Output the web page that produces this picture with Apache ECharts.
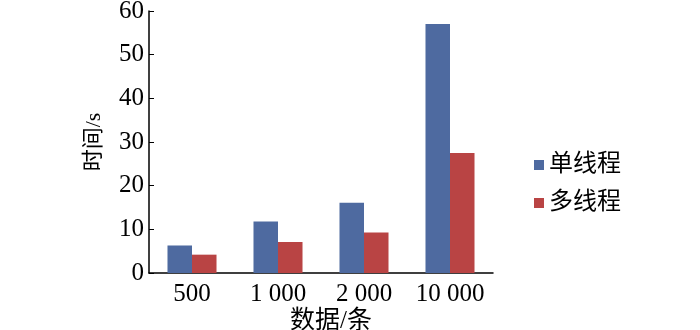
<!DOCTYPE html>
<html>
<head>
<meta charset="utf-8">
<script src="https://cdn.jsdelivr.net/npm/echarts@6/dist/echarts.min.js"></script>
<style>html,body{margin:0;padding:0;background:#fff}#c{width:700px;height:330px}</style>
</head>
<body>
<div id="c"></div>
<script>
const categories = ['500', '1 000', '2 000', '10 000'];
const singleThread = [6.3, 11.8, 16.1, 57.0];
const multiThread = [4.2, 7.1, 9.3, 27.5];
const seriesNames = ['单线程', '多线程'];
const yTicks = { min: 0, max: 60, interval: 10 };

const FONT = "'Liberation Serif', 'Noto Sans CJK SC', serif";
const chart = echarts.init(document.getElementById('c'), null, { renderer: 'canvas' });
chart.setOption({
  animation: false,
  backgroundColor: '#fff',
  grid: { left: 149, right: 207, top: 11, bottom: 57, containLabel: false, outerBoundsMode: 'none' },
  legend: {
    orient: 'vertical', left: 529, top: 148,
    icon: 'rect', itemWidth: 10, itemHeight: 10, itemGap: 14,
    textStyle: { fontFamily: FONT, fontSize: 24, color: '#000' },
    data: seriesNames
  },
  xAxis: {
    type: 'category', data: categories,
    name: '数据/条', nameLocation: 'middle', nameGap: 36, nameMoveOverlap: false,
    nameTextStyle: { fontFamily: FONT, fontSize: 25, color: '#000', padding: [0, 0, 0, 20] },
    axisLine: { lineStyle: { color: '#000', width: 1.5 } },
    axisTick: { inside: true, length: 5, lineStyle: { color: '#000' } },
    axisLabel: { interval: 0, hideOverlap: false, fontFamily: FONT, fontSize: 25, color: '#000', margin: 9 }
  },
  yAxis: {
    type: 'value', min: yTicks.min, max: yTicks.max, interval: yTicks.interval,
    name: '时间/s', nameLocation: 'middle', nameGap: 44, nameRotate: 90, nameMoveOverlap: false,
    nameTextStyle: { fontFamily: FONT, fontSize: 22, color: '#000' },
    axisLine: { show: true, lineStyle: { color: '#000', width: 1.5 } },
    axisTick: { show: true, inside: true, length: 5, lineStyle: { color: '#000' } },
    splitLine: { show: false },
    axisLabel: { fontFamily: FONT, fontSize: 25, color: '#000', margin: 5 }
  },
  series: [
    { name: seriesNames[0], type: 'bar', data: singleThread, itemStyle: { color: '#4e6aa0' }, barGap: '0%', barCategoryGap: '43%' },
    { name: seriesNames[1], type: 'bar', data: multiThread, itemStyle: { color: '#b94444' }, barGap: '0%', barCategoryGap: '43%' }
  ]
});
</script>
</body>
</html>
